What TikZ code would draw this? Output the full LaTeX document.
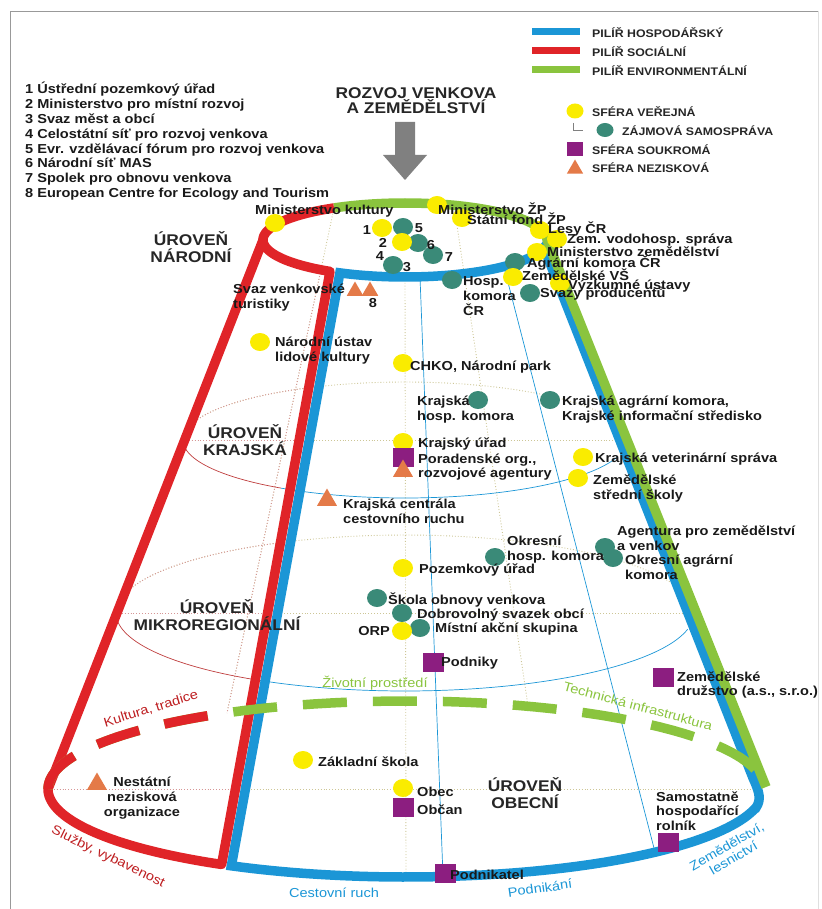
\documentclass[tikz,border=0pt]{standalone}
\usepackage{fontspec}
\setmainfont{Liberation Sans}
\newfontfamily\pismo[FakeStretch=1.12]{Liberation Sans}
\usetikzlibrary{shapes.geometric}

\definecolor{pcervena}{RGB}{224,36,40}
\definecolor{pmodra}{RGB}{27,150,214}
\definecolor{pzelena}{RGB}{138,196,62}
\definecolor{cervtenka}{RGB}{190,60,60}
\definecolor{sverej}{RGB}{250,236,0}
\definecolor{szajm}{RGB}{58,138,120}
\definecolor{ssouk}{RGB}{140,30,128}
\definecolor{snezi}{RGB}{228,122,72}
\definecolor{tecky}{RGB}{205,198,150}
\definecolor{teckyc}{RGB}{214,150,150}

\tikzset{
  verejna/.style={ellipse, fill=sverej, minimum width=20pt, minimum height=18pt, inner sep=0pt},
  zajmova/.style={ellipse, fill=szajm, minimum width=20pt, minimum height=18pt, inner sep=0pt},
  soukroma/.style={rectangle, fill=ssouk, minimum width=21pt, minimum height=19pt, inner sep=0pt},
  neziskova/.style={regular polygon, regular polygon sides=3, fill=snezi, minimum size=23pt, inner sep=0pt},
  popis/.style={font=\pismo\bfseries\fontsize{13}{14.6}\selectfont, text=black!90, inner sep=0pt, align=left, anchor=west},
  legenda/.style={font=\pismo\bfseries\fontsize{11}{12}\selectfont, text=black!85, inner sep=0pt, anchor=west},
  uroven/.style={font=\pismo\bfseries\fontsize{15.5}{17}\selectfont, text=black!85, align=center, inner sep=0pt},
  oblouk/.style={font=\pismo\fontsize{13}{13.5}\selectfont, align=center, inner sep=0pt},
  pilir/.style={line width=9.5pt},
  tenka/.style={line width=0.7pt},
  teckovana/.style={line width=0.9pt, dotted, tecky},
}

% pomocne teckovane cary kuzele
\newcommand{\pomocnecary}[1]{%
  \draw[teckovana, #1] plot[domain=180:360] ({405+222*cos(\x)},{440+58*sin(\x)});
  \draw[teckovana, #1] plot[domain=180:360] ({405+289*cos(\x)},{613+78*sin(\x)});
  \draw[teckovana, #1] (183,440) -- (626,440);
  \draw[teckovana, #1] (116,613) -- (692,613);
  \draw[teckovana, #1] (48,789) -- (762,789);
  \draw[teckovana, #1] (334,208) -- (227,713);
  \draw[teckovana, #1] (454,205) -- (528,706);
  \draw[teckovana, #1] (405,277) -- (406,877);
}

\begin{document}
\begin{tikzpicture}[x=1pt, y=-1pt, samples=61]
\useasboundingbox (0,0) rectangle (821,909);

% Ramecek
\draw[gray!80, line width=0.8pt] (10,909) -- (10,11) -- (818,11);
\draw[gray!25, line width=0.8pt] (818,11) -- (818,909);

% Nadpis a sipka
\node[uroven, font=\pismo\bfseries\fontsize{15.5}{14.5}\selectfont] (nadpis) at (416,100.5) {ROZVOJ VENKOVA\\A ZEMĚDĚLSTVÍ};
\fill[gray] (395,122) -- (415,122) -- (415,155) -- (427,155) -- (405,180) -- (383,155) -- (395,155) -- cycle;

% Legenda vlevo
\node[popis, font=\pismo\bfseries\fontsize{13}{14.8}\selectfont] (seznam) at (25,141.3) {1 Ústřední pozemkový úřad\\2 Ministerstvo pro místní rozvoj\\3 Svaz měst a obcí\\4 Celostátní síť pro rozvoj venkova\\5 Evr. vzdělávací fórum pro rozvoj venkova\\6 Národní síť MAS\\7 Spolek pro obnovu venkova\\8 European Centre for Ecology and Tourism};

% Legenda vpravo
\draw[line width=7pt, pmodra] (532,32) -- (580,32);
\draw[line width=7pt, pcervena] (532,51) -- (580,51);
\draw[line width=7pt, pzelena] (532,70) -- (580,70);
\node[legenda] (lhosp) at (592,33) {PILÍŘ HOSPODÁŘSKÝ};
\node[legenda] (lsoc) at (592,52) {PILÍŘ SOCIÁLNÍ};
\node[legenda] (lenv) at (592,71) {PILÍŘ ENVIRONMENTÁLNÍ};
\node[verejna, minimum width=17pt, minimum height=15pt] (lver) at (575,111) {};
\node[zajmova, minimum width=17pt, minimum height=14pt] (lzaj) at (605,130) {};
\node[soukroma, minimum width=16pt, minimum height=14pt] (lsouk) at (575,149) {};
\node[neziskova, minimum size=19pt] (lnez) at (575,169) {};
\draw[gray, line width=0.6pt] (573,123) |- (583,130);
\node[legenda] (tver) at (592,112) {SFÉRA VEŘEJNÁ};
\node[legenda] (tzaj) at (622,131) {ZÁJMOVÁ SAMOSPRÁVA};
\node[legenda] (tsouk) at (592,150) {SFÉRA SOUKROMÁ};
\node[legenda] (tnez) at (592,168) {SFÉRA NEZISKOVÁ};

% Teckovane cary (vzadu)
\pomocnecary{tecky}
\begin{scope}
  \clip (263,240) -- (330,271) -- (222,866) -- (48,789) -- cycle;
  \pomocnecary{teckyc}
\end{scope}

% Tenke cary (vpredu)
\draw[tenka, cervtenka] plot[domain=180:124] ({405+222*cos(\x)},{440+58*sin(\x)});
\draw[tenka, pmodra] plot[domain=124:17] ({405+222*cos(\x)},{440+58*sin(\x)});
\draw[tenka, cervtenka] plot[domain=180:122] ({405+289*cos(\x)},{613+78*sin(\x)});
\draw[tenka, pmodra] plot[domain=122:12] ({405+289*cos(\x)},{613+78*sin(\x)});
\draw[tenka, pmodra] (420,277) -- (443,876);
\draw[tenka, pmodra] (504,267) -- (655,852);

% Pilire
\draw[pilir, pmodra] plot[domain=117.3:12] ({405+142*cos(\x)},{240+37*sin(\x)}) -- (753,778) .. controls (760,793) and (761,800) .. (756.2,807.3) -- plot[domain=12:119.2] ({406+358*cos(\x)},{789+88*sin(\x)}) -- cycle;
\draw[pilir, pzelena] plot[domain=240:360] ({405+142*cos(\x)},{240+37*sin(\x)}) -- (766,787);
\draw[pilir, pcervena, line join=round] plot[domain=121.9:180] ({405+142*cos(\x)},{240+37*sin(\x)}) -- (48,789) -- plot[domain=180:121] ({406+358*cos(\x)},{789+88*sin(\x)}) -- cycle;
\draw[pilir, pcervena] plot[domain=180:240] ({405+142*cos(\x)},{240+37*sin(\x)});
\draw[pilir, pzelena, dash pattern=on 44pt off 26pt] plot[domain=180:360] ({406+358*cos(\x)},{789+88*sin(\x)});
\draw[pilir, pcervena, dash pattern=on 44pt off 26pt] plot[domain=180:238.5] ({406+358*cos(\x)},{789+88*sin(\x)});

% Popisy piliru
\node[oblouk, text=pzelena] (zivot) at (375,683) {Životní prostředí};
\node[oblouk, text=pzelena, rotate=-15] (techn) at (638,706) {Technická infrastruktura};
\node[oblouk, text=pcervena!85!black, rotate=17] (kult) at (151,709) {Kultura, tradice};
\node[oblouk, text=pcervena!85!black, rotate=-26] (sluz) at (108,857) {Služby, vybavenost};
\node[oblouk, text=pmodra] (cest) at (334,893) {Cestovní ruch};
\node[oblouk, text=pmodra, rotate=8] (podnik) at (540,888) {Podnikání};
\node[oblouk, text=pmodra, rotate=30] (zemles) at (730,852) {Zemědělství,\\lesnictví};

% Urovne
\node[uroven] (narodni) at (191,247.5) {ÚROVEŇ\\NÁRODNÍ};
\node[uroven] (krajska) at (245,440) {ÚROVEŇ\\KRAJSKÁ};
\node[uroven] (mikro) at (217,615) {ÚROVEŇ\\MIKROREGIONÁLNÍ};
\node[uroven] (obecni) at (525,793) {ÚROVEŇ\\OBECNÍ};

% Uroven narodni
\node[verejna] (mk) at (275,223) {};
\node[verejna] (u1) at (382,228) {};
\node[zajmova] (u5) at (403,227) {};
\node[zajmova] (u6) at (418,243) {};
\node[zajmova] (u7) at (433,255) {};
\node[verejna] (u2) at (402,242) {};
\node[zajmova] (u3) at (393,265) {};
\node[neziskova, minimum size=19pt] (u8a) at (355,291) {};
\node[neziskova, minimum size=19pt] (u8b) at (370,291) {};
\node[verejna] (mzp) at (437,205) {};
\node[verejna] (sfzp) at (462,218) {};
\node[zajmova] (hk) at (452,280) {};
\node[verejna] (lesy) at (540,230) {};
\node[verejna] (vodo) at (557,239) {};
\node[verejna] (mze) at (537,252) {};
\node[zajmova] (akcr) at (515,262) {};
\node[verejna] (zvs) at (513,277) {};
\node[verejna] (vu) at (560,283) {};
\node[zajmova] (sp) at (530,293) {};

\node[popis] (tmk) at (255,211) {Ministerstvo kultury};
\node[popis, anchor=center] (c1) at (367,230) {1};
\node[popis, anchor=center] (c5) at (419,228) {5};
\node[popis, anchor=center] (c2) at (383,243) {2};
\node[popis, anchor=center] (c6) at (431,245) {6};
\node[popis, anchor=center] (c7) at (449,257) {7};
\node[popis, anchor=center] (c4) at (380,256) {4};
\node[popis, anchor=center] (c3) at (407,267) {3};
\node[popis, anchor=center] (c8) at (373,303) {8};
\node[popis] (tsvt) at (233,297.5) {Svaz venkovské\\turistiky};
\node[popis] (tmzp) at (438,209) {Ministerstvo ŽP};
\node[popis] (tsfzp) at (467,219) {Státní fond ŽP};
\node[popis] (tlesy) at (548,229) {Lesy ČR};
\node[popis] (tvodo) at (567,240) {Zem. vodohosp. správa};
\node[popis] (tmze) at (547,252) {Ministerstvo zemědělství};
\node[popis] (takcr) at (527,263) {Agrární komora ČR};
\node[popis] (tzvs) at (522,275) {Zemědělské VŠ};
\node[popis] (tvu) at (568,286) {Výzkumné ústavy};
\node[popis] (tsp) at (540,294) {Svazy producentů};
\node[popis] (thk) at (463,296) {Hosp.\\komora\\ČR};

% Uroven krajska
\node[verejna] (nulk) at (260,342) {};
\node[verejna] (chko) at (403,363) {};
\node[zajmova] (khk) at (478,400) {};
\node[zajmova] (kak) at (550,400) {};
\node[verejna] (ku) at (403,442) {};
\node[soukroma] (por) at (403,457) {};
\node[neziskova] (porn) at (403,471) {};
\node[neziskova] (kcc) at (327,500) {};
\node[verejna] (kvs) at (583,457) {};
\node[verejna] (zss) at (578,478) {};

\node[popis] (tnulk) at (275,350.5) {Národní ústav\\lidové kultury};
\node[popis] (tchko) at (410,367) {CHKO, Národní park};
\node[popis] (tkhk) at (417,409.5) {Krajská\\hosp. komora};
\node[popis] (tkak) at (562,409.5) {Krajská agrární komora,\\Krajské informační středisko};
\node[popis] (tku) at (418,444) {Krajský úřad};
\node[popis] (tpor) at (418,467) {Poradenské org.,\\rozvojové agentury};
\node[popis] (tkcc) at (343,511) {Krajská centrála\\cestovního ruchu};
\node[popis] (tkvs) at (595,459) {Krajská veterinární správa};
\node[popis] (tzss) at (593,488.5) {Zemědělské\\střední školy};

% Uroven mikroregionalni
\node[zajmova] (azv) at (605,547) {};
\node[zajmova] (oak) at (613,558) {};
\node[zajmova] (ohk) at (495,557) {};
\node[verejna] (pu) at (403,568) {};
\node[zajmova] (sov) at (377,598) {};
\node[zajmova] (dso) at (402,613) {};
\node[zajmova] (mas) at (420,628) {};
\node[verejna] (orp) at (402,631) {};
\node[soukroma] (podn) at (433,662) {};
\node[soukroma] (zd) at (663,677) {};

\node[popis] (tazv) at (617,538) {Agentura pro zemědělství\\a venkov};
\node[popis] (toak) at (625,567) {Okresní agrární\\komora};
\node[popis] (tohk) at (507,549.5) {Okresní\\hosp. komora};
\node[popis] (tpu) at (419,570) {Pozemkový úřad};
\node[popis] (tsov) at (388,600) {Škola obnovy venkova};
\node[popis] (tdso) at (417,615) {Dobrovolný svazek obcí};
\node[popis, anchor=east] (torp) at (390,631) {ORP};
\node[popis] (tmas) at (435,629) {Místní akční skupina};
\node[popis] (tpodn) at (441,663) {Podniky};
\node[popis] (tzd) at (677,685) {Zemědělské\\družstvo (a.s., s.r.o.)};

% Uroven obecni
\node[verejna] (zs) at (303,760) {};
\node[neziskova] (nno) at (97,784) {};
\node[verejna] (obec) at (403,788) {};
\node[soukroma] (obcan) at (403,807) {};
\node[soukroma] (pdnk) at (445,873) {};
\node[soukroma] (shr) at (668,842) {};

\node[popis] (tzs) at (318,762) {Základní škola};
\node[popis, anchor=center, align=center] (tnno) at (142,798) {Nestátní\\nezisková\\organizace};
\node[popis] (tobec) at (417,792) {Obec};
\node[popis] (tobcan) at (417,810) {Občan};
\node[popis] (tpdnk) at (450,875) {Podnikatel};
\node[popis] (tshr) at (656,811) {Samostatně\\hospodařící\\rolník};
\end{tikzpicture}
\end{document}
